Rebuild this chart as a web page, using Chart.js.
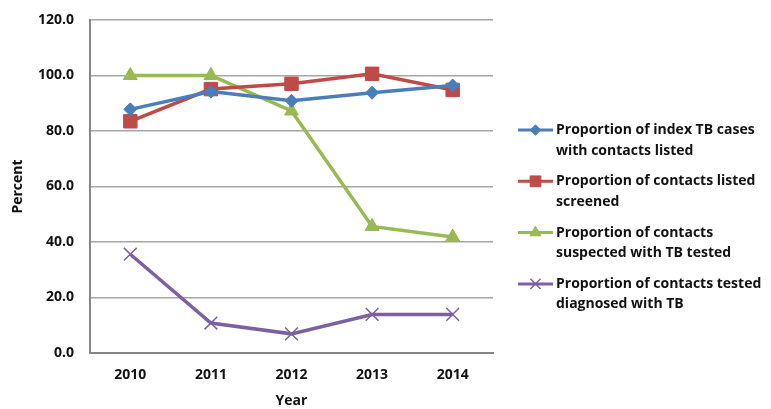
<!DOCTYPE html>
<html>
<head>
<meta charset="utf-8">
<script src="https://cdn.jsdelivr.net/npm/chart.js@4"></script>
<style>
  html, body { margin: 0; padding: 0; background: #fff; }
  #wrap { width: 771px; height: 409px; }
</style>
</head>
<body>
<div id="wrap"><canvas id="grafico"></canvas></div>
<script>
const anios = ["2010", "2011", "2012", "2013", "2014"];

const casosConContactos = [87.8, 94.2, 90.9, 93.8, 96.4];
const contactosTamizados = [83.5, 95.1, 97.0, 100.6, 94.8];
const sospechososTesteados = [100.0, 100.0, 87.2, 45.6, 41.8];
const testeadosDiagnosticados = [35.6, 10.8, 6.9, 13.9, 13.9];

const etiquetas = [
  ["Proportion of index TB cases", "with contacts listed"],
  ["Proportion of contacts listed", "screened"],
  ["Proportion of contacts", "suspected with TB tested"],
  ["Proportion of contacts tested", "diagnosed with TB"]
];

const fuente = "'Open Sans', 'DejaVu Sans', sans-serif";

// leyenda a la derecha, linea + marcador + texto en dos renglones
const leyendaDerecha = {
  id: "leyendaDerecha",
  afterDraw(chart) {
    const ctx = chart.ctx;
    const x0 = 518, x1 = 553, xt = 556;
    const y0 = 130, salto = 51.3, renglon = 20.6;
    chart.data.datasets.forEach((ds, i) => {
      const y = y0 + i * salto;
      ctx.save();
      ctx.strokeStyle = ds.borderColor;
      ctx.lineWidth = 3;
      ctx.beginPath();
      ctx.moveTo(x0, y);
      ctx.lineTo(x1, y);
      ctx.stroke();
      ctx.restore();

      ctx.save();
      ctx.fillStyle = ds.pointBackgroundColor;
      ctx.strokeStyle = ds.pointBorderColor;
      ctx.lineWidth = ds.pointBorderWidth || 1;
      Chart.helpers.drawPoint(ctx, {
        pointStyle: ds.pointStyle,
        radius: ds.pointRadius * 0.8,
        borderWidth: ds.pointBorderWidth || 1
      }, (x0 + x1) / 2, y);
      ctx.restore();

      ctx.save();
      ctx.fillStyle = "#111";
      ctx.font = "bold 14px " + fuente;
      ctx.textBaseline = "middle";
      ctx.textAlign = "left";
      etiquetas[i].forEach((t, k) => ctx.fillText(t, xt, y + k * renglon));
      ctx.restore();
    });
  }
};

function serie(label, data, color, estilo, radio, extra) {
  return Object.assign({
    label,
    data,
    borderColor: color,
    backgroundColor: color,
    pointBackgroundColor: color,
    pointBorderColor: color,
    borderWidth: 3.5,
    pointStyle: estilo,
    pointRadius: radio,
    pointHoverRadius: radio,
    pointBorderWidth: 1,
    tension: 0
  }, extra || {});
}

const letra = { family: fuente, size: 14, weight: "bold" };

new Chart(document.getElementById("grafico").getContext("2d"), {
  type: "line",
  data: {
    labels: anios,
    datasets: [
      serie("Proportion of index TB cases with contacts listed", casosConContactos, "#4A7EBB", "rectRot", 6.5),
      serie("Proportion of contacts listed screened", contactosTamizados, "#BE4B48", "rect", 9.5),
      serie("Proportion of contacts suspected with TB tested", sospechososTesteados, "#98B954", "triangle", 8),
      serie("Proportion of contacts tested diagnosed with TB", testeadosDiagnosticados, "#7D60A0", "crossRot", 9, { pointBorderWidth: 1.5 })
    ]
  },
  plugins: [leyendaDerecha],
  options: {
    responsive: true,
    maintainAspectRatio: false,
    animation: false,
    layout: { padding: { top: 20, right: 278, left: 0, bottom: 0 } },
    plugins: {
      legend: { display: false },
      tooltip: { enabled: false }
    },
    scales: {
      x: {
        offset: true,
        grid: { display: false, drawTicks: false },
        border: { display: true, color: "#868686", width: 2 },
        ticks: { color: "#111", padding: 14, font: letra },
        title: { display: true, text: "Year", color: "#111", padding: { top: 4, bottom: 0 }, font: letra },
        afterFit: (s) => { s.height = 56; s.paddingTop = 0; s.paddingBottom = 0; }
      },
      y: {
        min: 0,
        max: 120,
        grid: { color: "#A6A6A6", lineWidth: 1.5, drawTicks: false },
        border: { display: true, color: "#868686", width: 2 },
        ticks: {
          stepSize: 20,
          padding: 16,
          color: "#111",
          font: letra,
          callback: (v) => v.toFixed(1)
        },
        title: { display: true, text: "Percent", color: "#111", padding: { top: 10, bottom: 0 }, font: letra },
        afterFit: (s) => { s.width = 90; s.paddingTop = 0; s.paddingBottom = 0; }
      }
    }
  }
});
</script>
</body>
</html>
